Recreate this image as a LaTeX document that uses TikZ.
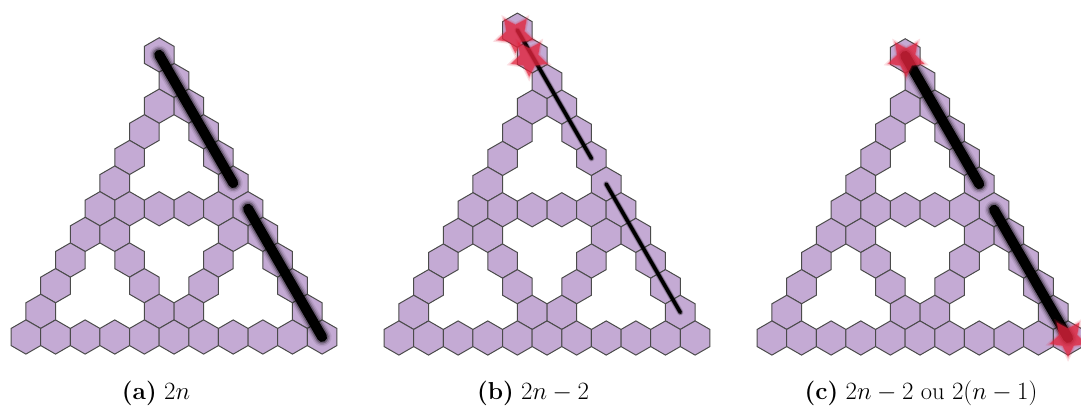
\documentclass[tikz,border=0pt]{standalone}
\usetikzlibrary{calc}
\definecolor{hexfill}{RGB}{196,170,212}
\definecolor{hexline}{RGB}{75,75,75}
\definecolor{starred}{RGB}{225,35,60}
\tikzset{
  hexs/.style={fill=hexfill,draw=hexline,line width=1pt,line join=miter},
  captxt/.style={anchor=base,inner sep=0pt,font=\fontsize{24.5}{29}\selectfont}
}
\newcommand\hexR{17.1}
\newcommand\hexW{29.62}
\newcommand\hexH{25.65}
\newcommand\mkpos[4]{%
  \pgfmathsetmacro\hx{#1+(#4-#3/2)*\hexW}%
  \pgfmathsetmacro\hy{#2-(10-#3)*\hexH}}
\newcommand\hexagon[2]{\draw[hexs] (#1,#2) +(30:\hexR) -- +(90:\hexR) -- +(150:\hexR) -- +(210:\hexR) -- +(270:\hexR) -- +(330:\hexR) -- cycle;}
\newcommand\sierp[4]{%
  \foreach \r/\i in {0/0,1/0,1/1,2/0,2/2,3/0,3/3,4/0,4/4,
     5/0,5/1,5/2,5/3,5/4,5/5,
     6/0,6/1,6/5,6/6,7/0,7/2,7/5,7/7,8/0,8/3,8/5,8/8,9/0,9/4,9/5,9/9,
     10/0,10/1,10/2,10/3,10/4,10/5,10/6,10/7,10/8,10/9,10/10}
     {\mkpos{#1}{#2}{\r}{\i}\hexagon{\hx}{\hy}}
  \foreach \r in {#3} {\mkpos{#1}{#2}{\r}{\r}\hexagon{\hx}{\hy}}
  \foreach \r in {-2,...,10} {\mkpos{#1}{#2}{\r}{\r}\pgfmathtruncatemacro\k{\r+2}%
     \coordinate (#4\k) at (\hx,\hy);}}
\newcommand\glow[3]{%
  \foreach \f/\o in {1.9/0.08,1.6/0.15,1.3/0.3,1/1}{%
    \pgfmathsetmacro\lw{\f*#3}%
    \draw[line cap=round,line width=\lw pt,opacity=\o] (#1) -- (#2);}}
\newcommand\starat[1]{%
  \foreach \f/\o in {1.25/0.15,1.1/0.25,1/0.68}{%
    \pgfmathsetmacro\ro{19*\f}\pgfmathsetmacro\ri{9.5*\f}%
    \fill[starred,opacity=\o] (#1) +(90:\ro) -- +(126:\ri) -- +(162:\ro) -- +(198:\ri) -- +(234:\ro) -- +(270:\ri) -- +(306:\ro) -- +(342:\ri) -- +(18:\ro) -- +(54:\ri) -- cycle;}}
\begin{document}
\begin{tikzpicture}[x=1pt,y=-1pt]
\useasboundingbox (0,0) rectangle (1081,415);
% panel (a)
\sierp{174}{337}{-1}{a}
\glow{a1}{a6}{10}
\glow{a7}{a12}{10}
% panel (b)
\sierp{547}{338}{-2,-1}{b}
\glow{b0}{b5}{3.5}
\glow{b6}{b11}{3.5}
\coordinate (bs1) at ($(b0)+(-2,4)$);
\coordinate (bs2) at ($(b1)+(-3,2)$);
\starat{bs1}
\starat{bs2}
% panel (c)
\sierp{920}{338}{-1}{c}
\glow{c1}{c6}{10}
\glow{c7}{c12}{10}
\coordinate (cs1) at ($(c1)+(1,2)$);
\coordinate (cs2) at (c12);
\starat{cs1}
\starat{cs2}
% captions
\node[captxt] (capa) at (156,399) {\textbf{(a)} $2n$};
\node[captxt] (capb) at (533,399) {\textbf{(b)} $2n-2$};
\node[captxt] (capc) at (921,399) {\textbf{(c)} $2n-2$ ou $2(n-1)$};
\end{tikzpicture}
\end{document}
